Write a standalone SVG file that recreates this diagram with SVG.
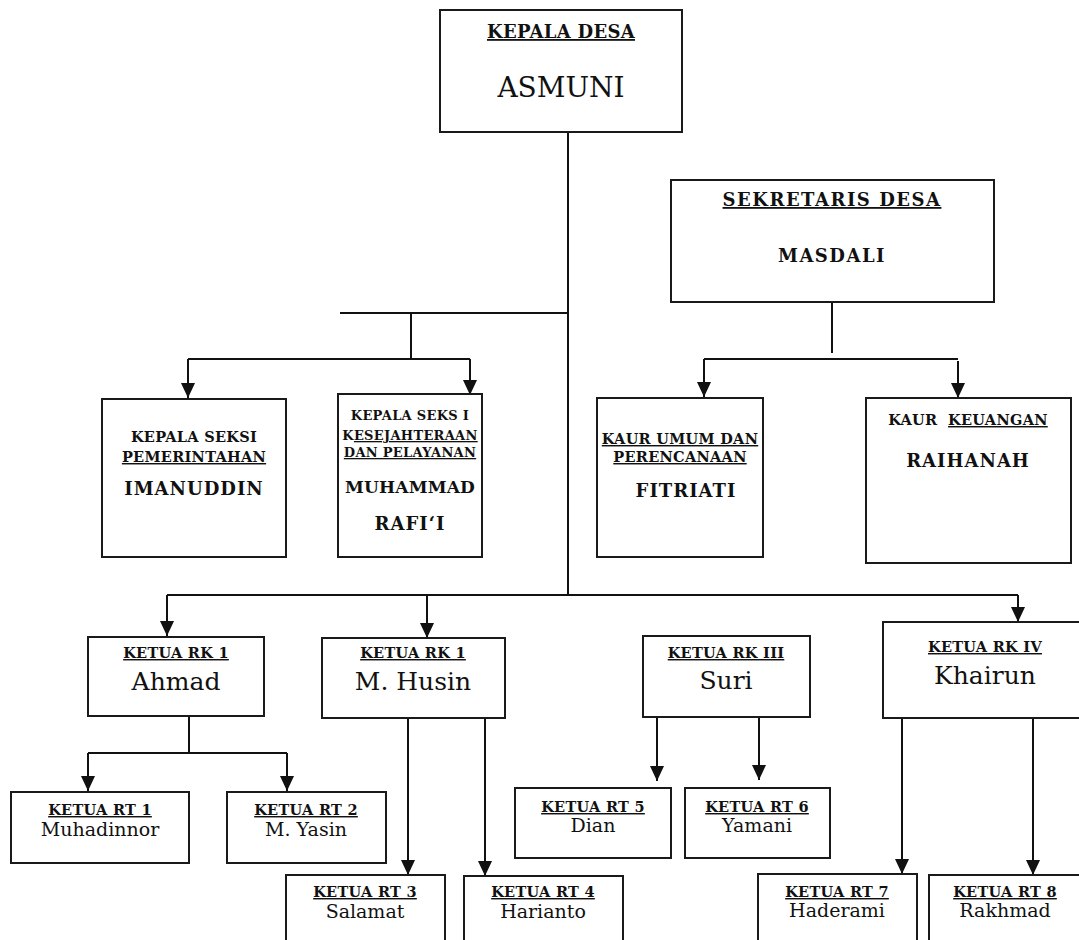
<svg xmlns="http://www.w3.org/2000/svg" width="1079" height="940" viewBox="0 0 1079 940">
<style>
text{font-family:"DejaVu Serif","Liberation Serif",serif;fill:#111;text-anchor:middle}
.box{fill:#fff;stroke:#1a1a1a;stroke-width:2}
.c{fill:none;stroke:#111;stroke-width:2}
.hb{font-weight:bold;font-size:18px;letter-spacing:0.3px}
.sb{font-weight:bold;font-size:14.5px;letter-spacing:0.3px}
.ss{font-weight:bold;font-size:13px;letter-spacing:0.3px}
.nb{font-weight:bold;font-size:18px;letter-spacing:1px}
.rk{font-size:25px}
.rt{font-size:19px}
.u{text-decoration:underline}
</style>
<defs>
<marker id="ah" markerWidth="15" markerHeight="15" refX="15" refY="7" orient="auto" markerUnits="userSpaceOnUse">
<path d="M0,0 L15,7 L0,14 z" fill="#111"/>
</marker>
</defs>
<g id="connectors">
<path class="c" d="M568,132 V595"/>
<path class="c" d="M340,313 H568"/>
<path class="c" d="M411,313 V360"/>
<path class="c" d="M188,359 H470"/>
<path class="c" d="M188,359 V398" marker-end="url(#ah)"/>
<path class="c" d="M470,359 V395" marker-end="url(#ah)"/>
<path class="c" d="M832,302 V353"/>
<path class="c" d="M704,359 H958"/>
<path class="c" d="M704,359 V397" marker-end="url(#ah)"/>
<path class="c" d="M958,361 V398" marker-end="url(#ah)"/>
<path class="c" d="M167,595 H1018"/>
<path class="c" d="M167,595 V636" marker-end="url(#ah)"/>
<path class="c" d="M427,595 V638" marker-end="url(#ah)"/>
<path class="c" d="M1018,595 V622" marker-end="url(#ah)"/>
<path class="c" d="M189,716 V753 M88,753 H287"/>
<path class="c" d="M88,753 V791" marker-end="url(#ah)"/>
<path class="c" d="M287,753 V791" marker-end="url(#ah)"/>
<path class="c" d="M408,718 V875" marker-end="url(#ah)"/>
<path class="c" d="M485,718 V876" marker-end="url(#ah)"/>
<path class="c" d="M657,717 V781" marker-end="url(#ah)"/>
<path class="c" d="M759,717 V780" marker-end="url(#ah)"/>
<path class="c" d="M902,718 V874" marker-end="url(#ah)"/>
<path class="c" d="M1033,718 V875" marker-end="url(#ah)"/>
</g>
<g id="kepala-desa">
<rect class="box" x="440" y="10" width="242" height="122"/>
<text class="hb u" x="561" y="38">KEPALA DESA</text>
<text x="561" y="97" style="font-size:28px">ASMUNI</text>
</g>
<g id="sekretaris-desa">
<rect class="box" x="671" y="180" width="323" height="122"/>
<text class="hb u" x="832" y="206" style="letter-spacing:1.5px">SEKRETARIS DESA</text>
<text class="hb" x="832" y="262" style="letter-spacing:1.5px">MASDALI</text>
</g>
<g id="kasi-pemerintahan">
<rect class="box" x="102" y="399" width="184" height="158"/>
<text class="sb" x="194" y="442">KEPALA SEKSI</text>
<text class="sb u" x="194" y="462">PEMERINTAHAN</text>
<text class="nb" x="194" y="495">IMANUDDIN</text>
</g>
<g id="kasi-kesejahteraan">
<rect class="box" x="338" y="394" width="144" height="163"/>
<text class="ss" x="410" y="420">KEPALA SEKS I</text>
<text class="ss" x="410" y="440">K<tspan class="u">ESEJAHTERAAN</tspan></text>
<text class="ss u" x="410" y="457">DAN PELAYANAN</text>
<text class="nb" x="410" y="493" style="font-size:17px;letter-spacing:0.2px">MUHAMMAD</text>
<text class="nb" x="410" y="530">RAFI‘I</text>
</g>
<g id="kaur-umum">
<rect class="box" x="597" y="398" width="166" height="159"/>
<text class="sb u" x="680" y="444">KAUR UMUM DAN</text>
<text class="sb u" x="680" y="462">PERENCANAAN</text>
<text class="nb" x="686" y="497">FITRIATI</text>
</g>
<g id="kaur-keuangan">
<rect class="box" x="866" y="398" width="205" height="165"/>
<text class="sb" x="968" y="425" xml:space="preserve">KAUR  <tspan class="u">KEUANGAN</tspan></text>
<text class="nb" x="968" y="467">RAIHANAH</text>
</g>
<g id="rk1-ahmad">
<rect class="box" x="88" y="637" width="176" height="79"/>
<text class="sb u" x="176" y="658">KETUA RK 1</text>
<text class="rk" x="176" y="690">Ahmad</text>
</g>
<g id="rk-mhusin">
<rect class="box" x="322" y="638" width="183" height="80"/>
<text class="sb u" x="413" y="658">KETUA RK 1</text>
<text class="rk" x="413" y="690">M. Husin</text>
</g>
<g id="rk3-suri">
<rect class="box" x="643" y="636" width="167" height="81"/>
<text class="sb u" x="726" y="658">KETUA RK III</text>
<text class="rk" x="726" y="689">Suri</text>
</g>
<g id="rk4-khairun">
<rect class="box" x="883" y="622" width="202" height="96"/>
<text class="sb u" x="985" y="652">KETUA RK IV</text>
<text class="rk" x="985" y="684">Khairun</text>
</g>
<g id="rt1">
<rect class="box" x="11" y="792" width="178" height="71"/>
<text class="sb u" x="100" y="815">KETUA RT 1</text>
<text class="rt" x="100" y="836">Muhadinnor</text>
</g>
<g id="rt2">
<rect class="box" x="227" y="792" width="159" height="71"/>
<text class="sb u" x="306" y="815">KETUA RT 2</text>
<text class="rt" x="306" y="836">M. Yasin</text>
</g>
<g id="rt3">
<rect class="box" x="286" y="875" width="159" height="80"/>
<text class="sb u" x="365" y="897">KETUA RT 3</text>
<text class="rt" x="365" y="918">Salamat</text>
</g>
<g id="rt4">
<rect class="box" x="464" y="876" width="159" height="80"/>
<text class="sb u" x="543" y="897">KETUA RT 4</text>
<text class="rt" x="543" y="918">Harianto</text>
</g>
<g id="rt5">
<rect class="box" x="515" y="788" width="156" height="70"/>
<text class="sb u" x="593" y="812">KETUA RT 5</text>
<text class="rt" x="593" y="832">Dian</text>
</g>
<g id="rt6">
<rect class="box" x="685" y="788" width="145" height="70"/>
<text class="sb u" x="757" y="812">KETUA RT 6</text>
<text class="rt" x="757" y="832">Yamani</text>
</g>
<g id="rt7">
<rect class="box" x="758" y="874" width="159" height="80"/>
<text class="sb u" x="837" y="897">KETUA RT 7</text>
<text class="rt" x="837" y="917">Haderami</text>
</g>
<g id="rt8">
<rect class="box" x="929" y="875" width="160" height="80"/>
<text class="sb u" x="1005" y="897">KETUA RT 8</text>
<text class="rt" x="1005" y="917">Rakhmad</text>
</g>
</svg>
